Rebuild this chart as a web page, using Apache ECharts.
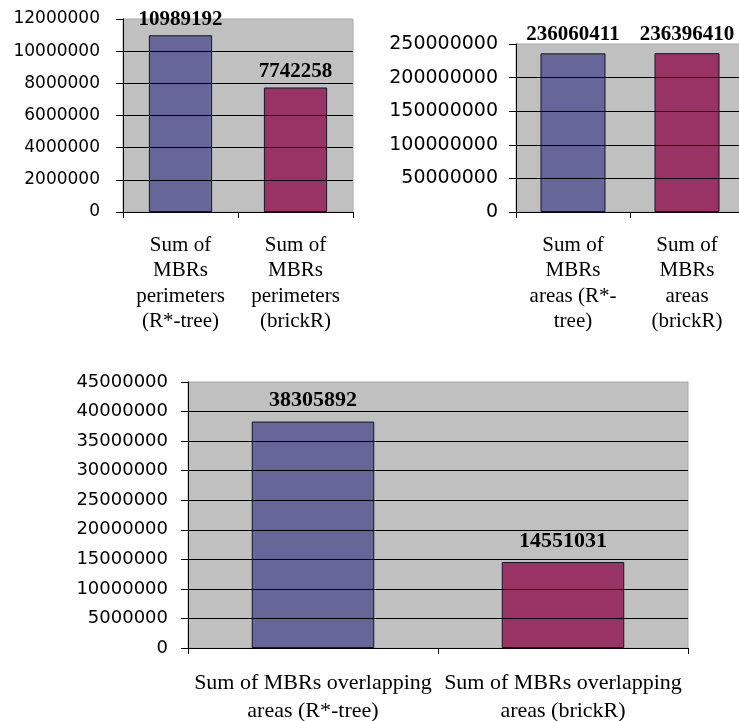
<!DOCTYPE html>
<html>
<head>
<meta charset="utf-8">
<script src="https://cdn.jsdelivr.net/npm/echarts@6/dist/echarts.min.js"></script>
<style>
html,body{margin:0;padding:0;background:#fff;}
#c{width:739px;height:721px;}
</style>
</head>
<body>
<div id="c"></div>
<script>
// Chart 1: perimeters
const cats1 = ['Sum of\nMBRs\nperimeters\n(R*-tree)', 'Sum of\nMBRs\nperimeters\n(brickR)'];
const vals1 = [10989192, 7742258];
const axis1 = {min: 0, max: 12000000, interval: 2000000};
// Chart 2: areas
const cats2 = ['Sum of\nMBRs\nareas (R*-\ntree)', 'Sum of\nMBRs\nareas\n(brickR)'];
const vals2 = [236060411, 236396410];
const axis2 = {min: 0, max: 250000000, interval: 50000000};
// Chart 3: overlapping areas
const cats3 = ['Sum of MBRs overlapping\nareas (R*-tree)', 'Sum of MBRs overlapping\nareas (brickR)'];
const vals3 = [38305892, 14551031];
const axis3 = {min: 0, max: 45000000, interval: 5000000};

const barColors = ['#666699', '#993366'];

const chart = echarts.init(document.getElementById('c'), null, {renderer: 'canvas'});

function grid(pos) {
  return Object.assign({show: true, z: 0, backgroundColor: '#c0c0c0', borderColor: '#a8a8a8', borderWidth: 1,
    containLabel: false, outerBoundsMode: 'none'}, pos);
}
function xAx(idx, cats, fs, lh, margin) {
  return {
    type: 'category', gridIndex: idx, data: cats, z: 5,
    axisLine: {show: true, lineStyle: {color: '#000', width: 1}},
    axisTick: {show: true, inside: false, length: 6, lineStyle: {color: '#000', width: 1}},
    axisLabel: {interval: 0, color: '#000', fontFamily: '"Liberation Serif", "Times New Roman", serif', fontSize: fs, lineHeight: lh, margin: margin}
  };
}
function yAx(idx, ax, fs, margin) {
  return {
    type: 'value', gridIndex: idx, min: ax.min, max: ax.max, interval: ax.interval, z: 5,
    axisLine: {show: true, lineStyle: {color: '#000', width: 1}},
    axisTick: {show: true, inside: false, length: 7, lineStyle: {color: '#000', width: 1}},
    splitLine: {show: true, showMaxLine: false, lineStyle: {color: '#000', width: 1}},
    axisLabel: {color: '#000', fontFamily: '"DejaVu Sans", Verdana, sans-serif', fontSize: fs, margin: margin, formatter: v => String(v)}
  };
}
function ser(idx, vals, bw, fs, dist) {
  return {
    type: 'bar', xAxisIndex: idx, yAxisIndex: idx, data: vals, barWidth: bw, z: 3,
    itemStyle: {color: p => barColors[p.dataIndex], borderColor: '#14142a', borderWidth: 1},
    label: {show: true, position: 'top', distance: dist, color: '#000', fontWeight: 'bold',
      fontFamily: '"Liberation Serif", "Times New Roman", serif', fontSize: fs, formatter: p => String(p.value)}
  };
}

chart.setOption({
  animation: false,
  backgroundColor: '#fff',
  grid: [
    grid({left: 123, right: 386, top: 19, bottom: 509}),
    grid({left: 516, right: -5, top: 44, bottom: 509}),
    grid({left: 188, right: 51, top: 382, bottom: 73})
  ],
  xAxis: [
    xAx(0, cats1, 21, 25.3, 21),
    xAx(1, cats2, 21, 25.3, 21),
    xAx(2, cats3, 22, 28, 21)
  ],
  yAxis: [
    yAx(0, axis1, 17, 23),
    yAx(1, axis2, 19, 18),
    yAx(2, axis3, 18, 20)
  ],
  series: [
    ser(0, vals1, '55%', 21, 5),
    ser(1, vals2, '57%', 21, 8),
    ser(2, vals3, '49%', 22, 10)
  ]
});
</script>
</body>
</html>
